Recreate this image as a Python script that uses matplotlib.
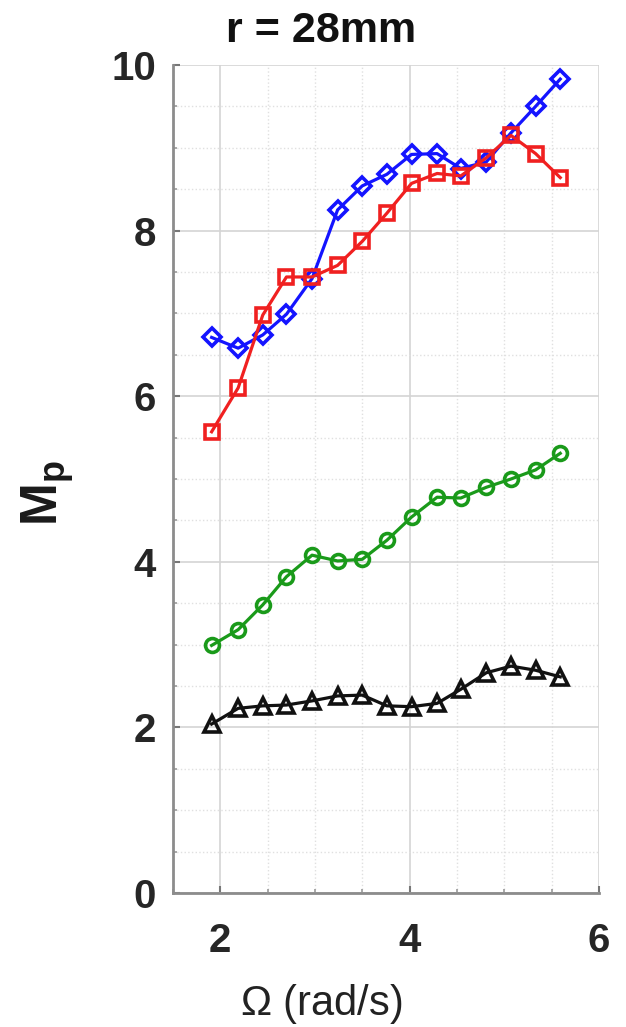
import matplotlib
matplotlib.use("Agg")
import matplotlib.pyplot as plt
from matplotlib.ticker import MultipleLocator

plt.rcParams['font.family'] = ['Liberation Sans', 'DejaVu Sans']
plt.rcParams['mathtext.fontset'] = 'custom'
plt.rcParams['mathtext.rm'] = 'Liberation Sans'
plt.rcParams['mathtext.bf'] = 'Liberation Sans:bold'

# angular speed (rad/s)
omega = [1.91, 2.19, 2.45, 2.70, 2.97, 3.24, 3.50, 3.76,
         4.02, 4.29, 4.54, 4.81, 5.07, 5.33, 5.59]

# M_p for the four series
mp_blue = [6.71, 6.58, 6.74, 6.99, 7.42, 8.25, 8.54, 8.68,
           8.92, 8.93, 8.75, 8.83, 9.18, 9.50, 9.83]
mp_red = [5.57, 6.10, 6.98, 7.44, 7.44, 7.58, 7.87, 8.21,
          8.57, 8.69, 8.66, 8.88, 9.15, 8.93, 8.64]
mp_green = [2.99, 3.18, 3.48, 3.82, 4.08, 4.01, 4.03, 4.26,
            4.54, 4.78, 4.77, 4.90, 5.00, 5.11, 5.31]
mp_black = [2.04, 2.23, 2.26, 2.27, 2.32, 2.38, 2.39, 2.26,
            2.25, 2.29, 2.46, 2.66, 2.74, 2.69, 2.61]

fig = plt.figure(figsize=(6.26, 10.27), dpi=100)
ax = fig.add_axes([0.276, 0.1305, 0.681, 0.8062])

ax.grid(True, which='major', color='#d4d4d4', lw=1.2, zorder=0)
ax.grid(True, which='minor', color='#e0e0e0', lw=1.0, ls=':', zorder=0)

lw = 2.3
ms = 10
mew = 2.6
ax.plot(omega, mp_blue, '-D', color='#1414ff', mfc='none', mec='#1414ff', mew=mew, lw=lw, ms=ms - 1)
ax.plot(omega, mp_red, '-s', color='#f02020', mfc='none', mec='#f02020', mew=mew, lw=lw, ms=ms)
ax.plot(omega, mp_green, '-o', color='#1a9a1a', mfc='none', mec='#1a9a1a', mew=mew, lw=lw, ms=ms)
ax.plot(omega, mp_black, '-^', color='#111111', mfc='none', mec='#111111', mew=mew, lw=lw, ms=ms + 1)

ax.set_xlim(1.5, 6)
ax.set_ylim(0, 10)
ax.xaxis.set_major_locator(MultipleLocator(2))
ax.xaxis.set_minor_locator(MultipleLocator(0.5))
ax.yaxis.set_major_locator(MultipleLocator(2))
ax.yaxis.set_minor_locator(MultipleLocator(0.5))

for side in ['top', 'right']:
    ax.spines[side].set_visible(False)
for side in ['left', 'bottom']:
    ax.spines[side].set_color('#8c8c8c')
    ax.spines[side].set_linewidth(2.0)

ax.tick_params(which='major', direction='in', length=5, width=1.5, color='#777777',
               labelsize=29, labelcolor='#262626', pad=12)
ax.tick_params(axis='x', which='major', pad=21)
ax.tick_params(which='minor', direction='in', length=3, width=1.2, color='#999999')
for lab in ax.get_xticklabels() + ax.get_yticklabels():
    lab.set_fontweight('bold')

fig.text(0.513, 0.970, 'r = 28mm', ha='center', va='center',
         fontsize=31, fontweight='bold', color='#111111')
fig.text(0.513, 0.022, r'$\Omega$ (rad/s)', ha='center', va='center',
         fontsize=30, color='#222222')
fig.text(0.076, 0.52, r'$\mathbf{M_p}$', ha='center', va='center',
         rotation=90, fontsize=37, color='#1a1a1a')

fig.savefig('out.png', dpi=100)
